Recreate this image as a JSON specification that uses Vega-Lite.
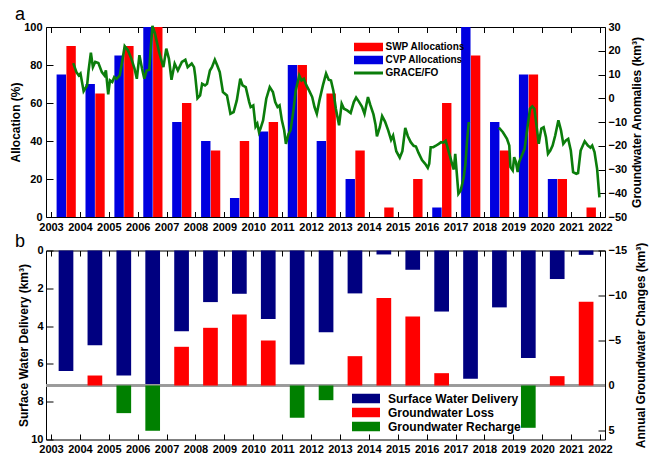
{
  "$schema": "https://vega.github.io/schema/vega-lite/v6.json",
  "padding": {"left": 9, "top": 5, "right": 5, "bottom": 5},
  "background": "white",
  "config": {
    "font": "Liberation Sans",
    "view": {"stroke": null},
    "axis": {
      "labelFont": "Liberation Sans", "labelFontWeight": "bold", "labelFontSize": 11, "labelColor": "black",
      "titleFont": "Liberation Sans", "titleFontWeight": "bold", "titleFontSize": 12, "titleColor": "black",
      "domainColor": "black", "tickColor": "black", "grid": false, "labelOverlap": false, "labelFlush": false, "labelBound": false
    }
  },
  "datasets": {
    "alloc": [
      {"year": 2003, "program": "CVP Allocations", "pct": 75}, {"year": 2003, "program": "SWP Allocations", "pct": 90},
      {"year": 2004, "program": "CVP Allocations", "pct": 70}, {"year": 2004, "program": "SWP Allocations", "pct": 65},
      {"year": 2005, "program": "CVP Allocations", "pct": 85}, {"year": 2005, "program": "SWP Allocations", "pct": 90},
      {"year": 2006, "program": "CVP Allocations", "pct": 100}, {"year": 2006, "program": "SWP Allocations", "pct": 100},
      {"year": 2007, "program": "CVP Allocations", "pct": 50}, {"year": 2007, "program": "SWP Allocations", "pct": 60},
      {"year": 2008, "program": "CVP Allocations", "pct": 40}, {"year": 2008, "program": "SWP Allocations", "pct": 35},
      {"year": 2009, "program": "CVP Allocations", "pct": 10}, {"year": 2009, "program": "SWP Allocations", "pct": 40},
      {"year": 2010, "program": "CVP Allocations", "pct": 45}, {"year": 2010, "program": "SWP Allocations", "pct": 50},
      {"year": 2011, "program": "CVP Allocations", "pct": 80}, {"year": 2011, "program": "SWP Allocations", "pct": 80},
      {"year": 2012, "program": "CVP Allocations", "pct": 40}, {"year": 2012, "program": "SWP Allocations", "pct": 65},
      {"year": 2013, "program": "CVP Allocations", "pct": 20}, {"year": 2013, "program": "SWP Allocations", "pct": 35},
      {"year": 2014, "program": "CVP Allocations", "pct": 0}, {"year": 2014, "program": "SWP Allocations", "pct": 5},
      {"year": 2015, "program": "CVP Allocations", "pct": 0}, {"year": 2015, "program": "SWP Allocations", "pct": 20},
      {"year": 2016, "program": "CVP Allocations", "pct": 5}, {"year": 2016, "program": "SWP Allocations", "pct": 60},
      {"year": 2017, "program": "CVP Allocations", "pct": 100}, {"year": 2017, "program": "SWP Allocations", "pct": 85},
      {"year": 2018, "program": "CVP Allocations", "pct": 50}, {"year": 2018, "program": "SWP Allocations", "pct": 35},
      {"year": 2019, "program": "CVP Allocations", "pct": 75}, {"year": 2019, "program": "SWP Allocations", "pct": 75},
      {"year": 2020, "program": "CVP Allocations", "pct": 20}, {"year": 2020, "program": "SWP Allocations", "pct": 20},
      {"year": 2021, "program": "CVP Allocations", "pct": 0}, {"year": 2021, "program": "SWP Allocations", "pct": 5}
    ],
    "grace": [
      {"t": 2003.77, "gw": 14.8, "m": "GRACE"}, {"t": 2003.88, "gw": 11.0, "m": "GRACE"}, {"t": 2003.96, "gw": 9.6, "m": "GRACE"},
      {"t": 2004.02, "gw": 10.4, "m": "GRACE"}, {"t": 2004.13, "gw": 3.0, "m": "GRACE"}, {"t": 2004.25, "gw": 5.4, "m": "GRACE"},
      {"t": 2004.30, "gw": 11.7, "m": "GRACE"}, {"t": 2004.38, "gw": 19.2, "m": "GRACE"}, {"t": 2004.45, "gw": 13.1, "m": "GRACE"},
      {"t": 2004.53, "gw": 15.3, "m": "GRACE"}, {"t": 2004.64, "gw": 14.8, "m": "GRACE"}, {"t": 2004.76, "gw": 11.0, "m": "GRACE"},
      {"t": 2004.85, "gw": 9.6, "m": "GRACE"}, {"t": 2004.90, "gw": 11.7, "m": "GRACE"}, {"t": 2004.98, "gw": 1.6, "m": "GRACE"},
      {"t": 2005.04, "gw": 7.5, "m": "GRACE"}, {"t": 2005.12, "gw": 6.8, "m": "GRACE"}, {"t": 2005.19, "gw": 8.9, "m": "GRACE"},
      {"t": 2005.27, "gw": 8.2, "m": "GRACE"}, {"t": 2005.38, "gw": 9.6, "m": "GRACE"}, {"t": 2005.47, "gw": 16.0, "m": "GRACE"},
      {"t": 2005.55, "gw": 21.9, "m": "GRACE"}, {"t": 2005.66, "gw": 20.2, "m": "GRACE"}, {"t": 2005.78, "gw": 16.7, "m": "GRACE"},
      {"t": 2005.89, "gw": 12.5, "m": "GRACE"}, {"t": 2005.97, "gw": 8.2, "m": "GRACE"}, {"t": 2006.06, "gw": 18.1, "m": "GRACE"},
      {"t": 2006.15, "gw": 12.5, "m": "GRACE"}, {"t": 2006.23, "gw": 8.2, "m": "GRACE"}, {"t": 2006.31, "gw": 11.7, "m": "GRACE"},
      {"t": 2006.40, "gw": 12.0, "m": "GRACE"}, {"t": 2006.46, "gw": 22.3, "m": "GRACE"}, {"t": 2006.51, "gw": 30.5, "m": "GRACE"},
      {"t": 2006.60, "gw": 27.2, "m": "GRACE"}, {"t": 2006.74, "gw": 19.5, "m": "GRACE"}, {"t": 2006.89, "gw": 13.1, "m": "GRACE"},
      {"t": 2006.99, "gw": 20.9, "m": "GRACE"}, {"t": 2007.08, "gw": 16.7, "m": "GRACE"}, {"t": 2007.17, "gw": 7.8, "m": "GRACE"},
      {"t": 2007.28, "gw": 14.6, "m": "GRACE"}, {"t": 2007.39, "gw": 11.7, "m": "GRACE"}, {"t": 2007.53, "gw": 15.3, "m": "GRACE"},
      {"t": 2007.65, "gw": 16.2, "m": "GRACE"}, {"t": 2007.73, "gw": 13.1, "m": "GRACE"}, {"t": 2007.87, "gw": 14.6, "m": "GRACE"},
      {"t": 2007.95, "gw": 13.1, "m": "GRACE"}, {"t": 2007.99, "gw": 9.6, "m": "GRACE"}, {"t": 2008.07, "gw": 0.0, "m": "GRACE"},
      {"t": 2008.16, "gw": 1.2, "m": "GRACE"}, {"t": 2008.23, "gw": 6.1, "m": "GRACE"}, {"t": 2008.33, "gw": 5.4, "m": "GRACE"},
      {"t": 2008.40, "gw": 6.1, "m": "GRACE"}, {"t": 2008.50, "gw": 11.7, "m": "GRACE"}, {"t": 2008.57, "gw": 13.1, "m": "GRACE"},
      {"t": 2008.67, "gw": 16.2, "m": "GRACE"}, {"t": 2008.75, "gw": 13.9, "m": "GRACE"}, {"t": 2008.84, "gw": 11.0, "m": "GRACE"},
      {"t": 2008.95, "gw": 2.6, "m": "GRACE"}, {"t": 2009.09, "gw": 1.2, "m": "GRACE"}, {"t": 2009.21, "gw": -6.5, "m": "GRACE"},
      {"t": 2009.32, "gw": -5.8, "m": "GRACE"}, {"t": 2009.43, "gw": -0.9, "m": "GRACE"}, {"t": 2009.55, "gw": 8.2, "m": "GRACE"},
      {"t": 2009.63, "gw": 5.4, "m": "GRACE"}, {"t": 2009.74, "gw": 4.7, "m": "GRACE"}, {"t": 2009.86, "gw": -1.6, "m": "GRACE"},
      {"t": 2009.91, "gw": -3.7, "m": "GRACE"}, {"t": 2010.00, "gw": -3.0, "m": "GRACE"}, {"t": 2010.08, "gw": -11.9, "m": "GRACE"},
      {"t": 2010.14, "gw": -10.7, "m": "GRACE"}, {"t": 2010.20, "gw": -14.3, "m": "GRACE"}, {"t": 2010.25, "gw": -12.8, "m": "GRACE"},
      {"t": 2010.34, "gw": -9.3, "m": "GRACE"}, {"t": 2010.45, "gw": -0.2, "m": "GRACE"}, {"t": 2010.57, "gw": 4.7, "m": "GRACE"},
      {"t": 2010.68, "gw": 2.6, "m": "GRACE"}, {"t": 2010.76, "gw": -1.6, "m": "GRACE"}, {"t": 2010.84, "gw": -3.7, "m": "GRACE"},
      {"t": 2010.91, "gw": -3.0, "m": "GRACE"}, {"t": 2010.99, "gw": -9.3, "m": "GRACE"}, {"t": 2011.07, "gw": -13.5, "m": "GRACE"},
      {"t": 2011.13, "gw": -19.2, "m": "GRACE"}, {"t": 2011.22, "gw": -15.0, "m": "GRACE"}, {"t": 2011.29, "gw": -13.5, "m": "GRACE"},
      {"t": 2011.39, "gw": -5.1, "m": "GRACE"}, {"t": 2011.47, "gw": 3.3, "m": "GRACE"}, {"t": 2011.59, "gw": 9.6, "m": "GRACE"},
      {"t": 2011.67, "gw": 7.5, "m": "GRACE"}, {"t": 2011.75, "gw": 8.2, "m": "GRACE"}, {"t": 2011.84, "gw": 5.4, "m": "GRACE"},
      {"t": 2011.93, "gw": 3.3, "m": "GRACE"}, {"t": 2012.04, "gw": 0.5, "m": "GRACE"}, {"t": 2012.12, "gw": -3.7, "m": "GRACE"},
      {"t": 2012.20, "gw": -6.5, "m": "GRACE"}, {"t": 2012.29, "gw": -0.9, "m": "GRACE"}, {"t": 2012.41, "gw": 5.4, "m": "GRACE"},
      {"t": 2012.52, "gw": 10.4, "m": "GRACE"}, {"t": 2012.61, "gw": 7.8, "m": "GRACE"}, {"t": 2012.69, "gw": 7.5, "m": "GRACE"},
      {"t": 2012.77, "gw": 3.3, "m": "GRACE"}, {"t": 2012.86, "gw": -4.5, "m": "GRACE"}, {"t": 2012.97, "gw": -11.4, "m": "GRACE"},
      {"t": 2013.06, "gw": -2.3, "m": "GRACE"}, {"t": 2013.14, "gw": -4.4, "m": "GRACE"}, {"t": 2013.25, "gw": -5.1, "m": "GRACE"},
      {"t": 2013.37, "gw": -6.2, "m": "GRACE"}, {"t": 2013.48, "gw": -1.6, "m": "GRACE"}, {"t": 2013.56, "gw": 0.3, "m": "GRACE"},
      {"t": 2013.65, "gw": -1.3, "m": "GRACE"}, {"t": 2013.76, "gw": -3.5, "m": "GRACE"}, {"t": 2013.85, "gw": -6.5, "m": "GRACE"},
      {"t": 2013.97, "gw": 0.5, "m": "GRACE"}, {"t": 2014.05, "gw": -2.8, "m": "GRACE"}, {"t": 2014.16, "gw": -6.8, "m": "GRACE"},
      {"t": 2014.23, "gw": -11.0, "m": "GRACE"}, {"t": 2014.28, "gw": -16.0, "m": "GRACE"}, {"t": 2014.38, "gw": -12.2, "m": "GRACE"},
      {"t": 2014.46, "gw": -7.5, "m": "GRACE"}, {"t": 2014.56, "gw": -9.8, "m": "GRACE"}, {"t": 2014.67, "gw": -13.5, "m": "GRACE"},
      {"t": 2014.77, "gw": -17.5, "m": "GRACE"}, {"t": 2014.84, "gw": -15.7, "m": "GRACE"}, {"t": 2014.95, "gw": -22.3, "m": "GRACE"},
      {"t": 2015.07, "gw": -25.0, "m": "GRACE"}, {"t": 2015.16, "gw": -22.3, "m": "GRACE"}, {"t": 2015.26, "gw": -12.5, "m": "GRACE"},
      {"t": 2015.35, "gw": -16.0, "m": "GRACE"}, {"t": 2015.45, "gw": -18.5, "m": "GRACE"}, {"t": 2015.55, "gw": -20.0, "m": "GRACE"},
      {"t": 2015.63, "gw": -20.3, "m": "GRACE"}, {"t": 2015.72, "gw": -23.0, "m": "GRACE"}, {"t": 2015.84, "gw": -26.0, "m": "GRACE"},
      {"t": 2015.95, "gw": -27.6, "m": "GRACE"}, {"t": 2016.04, "gw": -29.3, "m": "GRACE"}, {"t": 2016.09, "gw": -27.6, "m": "GRACE"},
      {"t": 2016.14, "gw": -20.6, "m": "GRACE"}, {"t": 2016.23, "gw": -20.6, "m": "GRACE"}, {"t": 2016.32, "gw": -20.0, "m": "GRACE"},
      {"t": 2016.42, "gw": -19.2, "m": "GRACE"}, {"t": 2016.50, "gw": -18.5, "m": "GRACE"}, {"t": 2016.58, "gw": -18.7, "m": "GRACE"},
      {"t": 2016.66, "gw": -17.9, "m": "GRACE"}, {"t": 2016.73, "gw": -21.0, "m": "GRACE"}, {"t": 2016.81, "gw": -24.5, "m": "GRACE"},
      {"t": 2016.88, "gw": -27.6, "m": "GRACE"}, {"t": 2016.94, "gw": -30.0, "m": "GRACE"}, {"t": 2016.99, "gw": -23.4, "m": "GRACE"},
      {"t": 2017.04, "gw": -31.0, "m": "GRACE"}, {"t": 2017.10, "gw": -40.2, "m": "GRACE"}, {"t": 2017.18, "gw": -38.8, "m": "GRACE"},
      {"t": 2017.28, "gw": -33.5, "m": "GRACE"}, {"t": 2017.34, "gw": -28.0, "m": "GRACE"}, {"t": 2017.40, "gw": -17.8, "m": "GRACE"},
      {"t": 2017.46, "gw": -10.0, "m": "GRACE"},
      {"t": 2018.50, "gw": -12.4, "m": "GRACE-FO"}, {"t": 2018.64, "gw": -14.3, "m": "GRACE-FO"}, {"t": 2018.78, "gw": -17.1, "m": "GRACE-FO"},
      {"t": 2018.86, "gw": -19.9, "m": "GRACE-FO"}, {"t": 2018.90, "gw": -29.0, "m": "GRACE-FO"}, {"t": 2018.98, "gw": -30.4, "m": "GRACE-FO"},
      {"t": 2019.03, "gw": -24.8, "m": "GRACE-FO"}, {"t": 2019.09, "gw": -26.9, "m": "GRACE-FO"}, {"t": 2019.15, "gw": -31.1, "m": "GRACE-FO"},
      {"t": 2019.20, "gw": -26.9, "m": "GRACE-FO"}, {"t": 2019.32, "gw": -23.4, "m": "GRACE-FO"}, {"t": 2019.39, "gw": -21.3, "m": "GRACE-FO"},
      {"t": 2019.49, "gw": -12.2, "m": "GRACE-FO"}, {"t": 2019.58, "gw": -4.4, "m": "GRACE-FO"}, {"t": 2019.66, "gw": -3.4, "m": "GRACE-FO"},
      {"t": 2019.73, "gw": -4.4, "m": "GRACE-FO"}, {"t": 2019.83, "gw": -14.3, "m": "GRACE-FO"}, {"t": 2019.88, "gw": -19.2, "m": "GRACE-FO"},
      {"t": 2019.97, "gw": -12.8, "m": "GRACE-FO"}, {"t": 2020.05, "gw": -12.2, "m": "GRACE-FO"}, {"t": 2020.13, "gw": -16.4, "m": "GRACE-FO"},
      {"t": 2020.20, "gw": -23.4, "m": "GRACE-FO"}, {"t": 2020.28, "gw": -22.0, "m": "GRACE-FO"}, {"t": 2020.36, "gw": -19.9, "m": "GRACE-FO"},
      {"t": 2020.45, "gw": -15.7, "m": "GRACE-FO"}, {"t": 2020.56, "gw": -9.3, "m": "GRACE-FO"}, {"t": 2020.65, "gw": -13.5, "m": "GRACE-FO"},
      {"t": 2020.73, "gw": -19.2, "m": "GRACE-FO"}, {"t": 2020.82, "gw": -17.8, "m": "GRACE-FO"}, {"t": 2020.90, "gw": -17.1, "m": "GRACE-FO"},
      {"t": 2020.99, "gw": -22.0, "m": "GRACE-FO"}, {"t": 2021.07, "gw": -31.1, "m": "GRACE-FO"}, {"t": 2021.18, "gw": -31.8, "m": "GRACE-FO"},
      {"t": 2021.24, "gw": -31.5, "m": "GRACE-FO"}, {"t": 2021.33, "gw": -22.0, "m": "GRACE-FO"}, {"t": 2021.47, "gw": -18.1, "m": "GRACE-FO"},
      {"t": 2021.58, "gw": -19.9, "m": "GRACE-FO"}, {"t": 2021.67, "gw": -20.8, "m": "GRACE-FO"}, {"t": 2021.73, "gw": -19.9, "m": "GRACE-FO"},
      {"t": 2021.81, "gw": -22.7, "m": "GRACE-FO"}, {"t": 2021.90, "gw": -29.7, "m": "GRACE-FO"}, {"t": 2021.98, "gw": -41.7, "m": "GRACE-FO"}
    ],
    "water": [
      {"year": 2003, "type": "Surface Water Delivery", "v": 6.38},
      {"year": 2004, "type": "Surface Water Delivery", "v": 5.01},
      {"year": 2005, "type": "Surface Water Delivery", "v": 6.61},
      {"year": 2006, "type": "Surface Water Delivery", "v": 7.12},
      {"year": 2007, "type": "Surface Water Delivery", "v": 4.27},
      {"year": 2008, "type": "Surface Water Delivery", "v": 2.73},
      {"year": 2009, "type": "Surface Water Delivery", "v": 2.29},
      {"year": 2010, "type": "Surface Water Delivery", "v": 3.63},
      {"year": 2011, "type": "Surface Water Delivery", "v": 6.03},
      {"year": 2012, "type": "Surface Water Delivery", "v": 4.32},
      {"year": 2013, "type": "Surface Water Delivery", "v": 2.27},
      {"year": 2014, "type": "Surface Water Delivery", "v": 0.21},
      {"year": 2015, "type": "Surface Water Delivery", "v": 1.02},
      {"year": 2016, "type": "Surface Water Delivery", "v": 3.23},
      {"year": 2017, "type": "Surface Water Delivery", "v": 6.79},
      {"year": 2018, "type": "Surface Water Delivery", "v": 3.01},
      {"year": 2019, "type": "Surface Water Delivery", "v": 5.69},
      {"year": 2020, "type": "Surface Water Delivery", "v": 1.51},
      {"year": 2021, "type": "Surface Water Delivery", "v": 0.23},
      {"year": 2004, "type": "Groundwater Loss", "v": -1.11},
      {"year": 2007, "type": "Groundwater Loss", "v": -4.3},
      {"year": 2008, "type": "Groundwater Loss", "v": -6.41},
      {"year": 2009, "type": "Groundwater Loss", "v": -7.89},
      {"year": 2010, "type": "Groundwater Loss", "v": -5.0},
      {"year": 2013, "type": "Groundwater Loss", "v": -3.26},
      {"year": 2014, "type": "Groundwater Loss", "v": -9.71},
      {"year": 2015, "type": "Groundwater Loss", "v": -7.67},
      {"year": 2016, "type": "Groundwater Loss", "v": -1.37},
      {"year": 2020, "type": "Groundwater Loss", "v": -1.04},
      {"year": 2021, "type": "Groundwater Loss", "v": -9.3},
      {"year": 2005, "type": "Groundwater Recharge", "v": 3.07},
      {"year": 2006, "type": "Groundwater Recharge", "v": 5.03},
      {"year": 2011, "type": "Groundwater Recharge", "v": 3.59},
      {"year": 2012, "type": "Groundwater Recharge", "v": 1.63},
      {"year": 2019, "type": "Groundwater Recharge", "v": 4.7}
    ]
  },
  "spacing": 0.5,
  "resolve": {"scale": {"color": "independent"}, "legend": {"color": "independent"}},
  "vconcat": [
    {
      "title": {"text": "a", "anchor": "start", "frame": "group", "fontSize": 18, "fontWeight": "normal", "font": "Liberation Sans", "color": "black", "dx": -31, "offset": -3},
      "width": 559,
      "height": 190,
      "layer": [
        {
          "data": {"name": "alloc"},
          "layer": [
            {
              "transform": [{"filter": "datum.program == 'CVP Allocations'"}],
              "mark": {"type": "bar", "width": 9.4, "xOffset": 10.3},
              "encoding": {
                "x": {"field": "year", "type": "quantitative", "scale": {"domain": [2003, 2022], "nice": false, "zero": false},
                      "axis": {"title": null, "values": [2003,2004,2005,2006,2007,2008,2009,2010,2011,2012,2013,2014,2015,2016,2017,2018,2019,2020,2021,2022], "format": "d", "tickSize": -5.5, "labelPadding": 9.5, "labelOverlap": false}},
                "y": {"field": "pct", "type": "quantitative", "scale": {"domain": [0, 100], "nice": false},
                      "axis": {"title": "Allocation (%)", "values": [0,20,40,60,80,100], "tickSize": -7, "labelPadding": 11, "titlePadding": 1, "labelOverlap": false}},
                "color": {"field": "program", "type": "nominal",
                          "scale": {"domain": ["SWP Allocations", "CVP Allocations", "GRACE/FO"], "range": ["#ff0000", "#0000e0", "#0b7d0b"]},
                          "legend": {"orient": "none", "legendX": 304, "legendY": 15, "title": null, "direction": "vertical",
                                     "symbolType": "M-2.9,-0.85H2.9V0.85H-2.9Z", "symbolSize": 100, "symbolOffset": 13.5, "symbolStrokeWidth": 0,
                                     "labelOffset": 12, "labelFontSize": 10, "labelFontWeight": "bold", "labelFont": "Liberation Sans", "labelColor": "black", "rowPadding": 3,
                                     "encode": {"symbols": {"update": {"shape": {"signal": "datum.value === 'GRACE/FO' ? 'M-2.9,-0.3H2.9V0.3H-2.9Z' : 'M-2.9,-0.85H2.9V0.85H-2.9Z'"}}}}}}
              }
            },
            {
              "transform": [{"filter": "datum.program == 'SWP Allocations'"}],
              "mark": {"type": "bar", "width": 9.4, "xOffset": 20.1},
              "encoding": {
                "x": {"field": "year", "type": "quantitative", "scale": {"domain": [2003, 2022], "nice": false, "zero": false},
                      "axis": {"title": null, "values": [2003,2004,2005,2006,2007,2008,2009,2010,2011,2012,2013,2014,2015,2016,2017,2018,2019,2020,2021,2022], "format": "d", "tickSize": -5.5, "labelPadding": 9.5, "labelOverlap": false}},
                "y": {"field": "pct", "type": "quantitative", "scale": {"domain": [0, 100], "nice": false},
                      "axis": {"title": "Allocation (%)", "values": [0,20,40,60,80,100], "tickSize": -7, "labelPadding": 11, "titlePadding": 1, "labelOverlap": false}},
                "color": {"field": "program", "type": "nominal"}
              }
            }
          ]
        },
        {
          "data": {"name": "grace"},
          "mark": {"type": "line", "strokeWidth": 2.6},
          "encoding": {
            "x": {"field": "t", "type": "quantitative", "scale": {"domain": [2003, 2022], "nice": false, "zero": false},
                  "axis": {"orient": "top", "title": null, "labels": false, "values": [2003,2004,2005,2006,2007,2008,2009,2010,2011,2012,2013,2014,2015,2016,2017,2018,2019,2020,2021,2022], "tickSize": -5.5}},
            "y": {"field": "gw", "type": "quantitative", "scale": {"domain": [-50, 30], "nice": false, "zero": false},
                  "axis": {"orient": "right", "title": "Groundwater Anomalies (km³)", "values": [-50,-40,-30,-20,-10,0,10,20,30], "tickSize": -7, "labelPadding": 10, "titleAngle": 270, "titleBaseline": "top", "titlePadding": 5, "labelOverlap": false}},
            "detail": {"field": "m"},
            "color": {"datum": "GRACE/FO", "type": "nominal", "legend": null}
          }
        }
      ],
      "resolve": {"scale": {"y": "independent"}, "axis": {"x": "independent", "y": "independent"}}
    },
    {
      "title": {"text": "b", "anchor": "start", "frame": "group", "fontSize": 18, "fontWeight": "normal", "font": "Liberation Sans", "color": "black", "dx": -31, "offset": -9},
      "width": 559,
      "height": 189,
      "data": {"name": "water"},
      "layer": [
        {
          "transform": [{"filter": "datum.type == 'Surface Water Delivery'"}],
          "mark": {"type": "bar", "width": 14.7, "xOffset": 15},
          "encoding": {
            "x": {"field": "year", "type": "quantitative", "scale": {"domain": [2003, 2022], "nice": false, "zero": false},
                  "axis": {"title": null, "values": [2003,2004,2005,2006,2007,2008,2009,2010,2011,2012,2013,2014,2015,2016,2017,2018,2019,2020,2021,2022], "format": "d", "tickSize": -5.5, "labelPadding": 9.5, "labelOverlap": false}},
            "y": {"field": "v", "type": "quantitative", "scale": {"domain": [0, 10], "reverse": true, "nice": false},
                  "axis": {"title": "Surface Water Delivery (km³)", "values": [0,2,4,6,8,10], "tickSize": -7, "labelPadding": 10, "titlePadding": 0, "labelOverlap": false}},
            "color": {"field": "type", "type": "nominal",
                      "scale": {"domain": ["Surface Water Delivery", "Groundwater Loss", "Groundwater Recharge"], "range": ["#000080", "#ff0000", "#008000"]},
                      "legend": {"orient": "none", "legendX": 301, "legendY": 142, "title": null, "direction": "vertical",
                                 "symbolType": "M-2.8,-0.95H2.8V0.95H-2.8Z", "symbolSize": 100, "symbolOffset": 13, "symbolStrokeWidth": 0,
                                 "labelOffset": 16, "labelFontSize": 12, "labelFontWeight": "bold", "labelFont": "Liberation Sans", "labelColor": "black", "rowPadding": 2,
                                 "encode": {"symbols": {"update": {"fill": {"signal": "datum.value === 'Surface Water Delivery' ? '#1f3864' : datum.value === 'Groundwater Recharge' ? '#00a000' : '#ff0000'"}}}}}}
          }
        },
        {
          "layer": [
            {
              "mark": {"type": "rule", "color": "#9a9a9a", "strokeWidth": 1.5},
              "encoding": {"y": {"datum": 0, "type": "quantitative"}}
            },
            {
              "transform": [{"filter": "datum.type != 'Surface Water Delivery'"}],
              "mark": {"type": "bar", "width": 14.7, "xOffset": 15},
              "encoding": {
                "x": {"field": "year", "type": "quantitative", "scale": {"domain": [2003, 2022], "nice": false, "zero": false},
                      "axis": {"orient": "top", "title": null, "labels": false, "values": [2003,2004,2005,2006,2007,2008,2009,2010,2011,2012,2013,2014,2015,2016,2017,2018,2019,2020,2021,2022], "tickSize": -5.5}},
                "y": {"field": "v", "type": "quantitative", "scale": {"domain": [-15, 6], "reverse": true, "nice": false, "zero": true},
                      "axis": {"orient": "right", "title": "Annual Groundwater Changes (km³)", "values": [-15,-10,-5,0,5], "tickSize": -7, "labelPadding": 10, "titleAngle": 270, "titleBaseline": "top", "titlePadding": 9, "labelOverlap": false}},
                "color": {"field": "type", "type": "nominal", "legend": null}
              }
            }
          ]
        }
      ],
      "resolve": {"scale": {"y": "independent"}, "axis": {"x": "independent", "y": "independent"}}
    }
  ]
}
